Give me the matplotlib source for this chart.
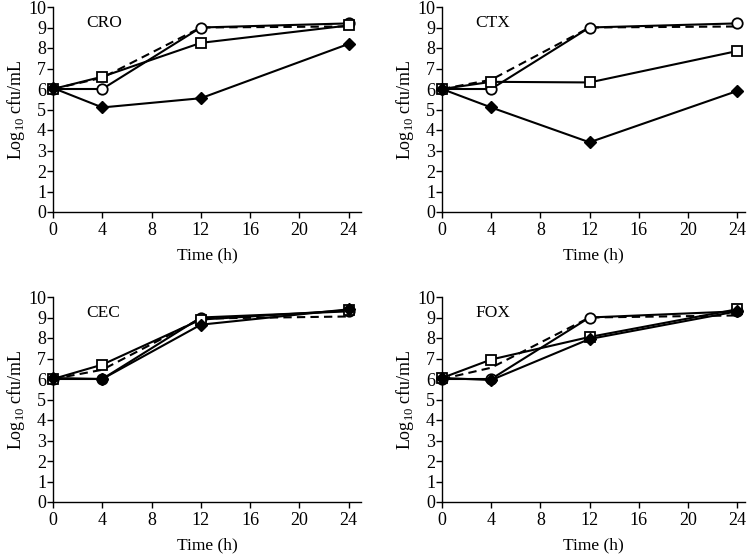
import matplotlib
matplotlib.use("Agg")
from matplotlib import pyplot as plt

plt.rcParams['font.family'] = ['Liberation Serif', 'DejaVu Serif']
plt.rcParams['mathtext.fontset'] = 'custom'
plt.rcParams['mathtext.rm'] = 'Liberation Serif'

time_h = [0, 4, 12, 24]
panels = ['CRO', 'CTX', 'CEC', 'FOX']

# control (dashed, no markers)
control = {
    'CRO': [6.0, 6.55, 9.0, 9.05],
    'CTX': [6.0, 6.45, 9.0, 9.05],
    'CEC': [6.0, 6.45, 8.95, 9.05],
    'FOX': [6.0, 6.55, 9.0, 9.1],
}
circles = {
    'CRO': [6.0, 6.0, 9.0, 9.2],
    'CTX': [6.0, 6.0, 9.0, 9.2],
    'CEC': [6.0, 6.0, 9.0, 9.3],
    'FOX': [6.0, 6.0, 9.0, 9.3],
}
squares = {
    'CRO': [6.0, 6.6, 8.25, 9.1],
    'CTX': [6.0, 6.35, 6.32, 7.85],
    'CEC': [6.0, 6.7, 8.9, 9.35],
    'FOX': [6.05, 6.95, 8.05, 9.4],
}
diamonds = {
    'CRO': [6.05, 5.1, 5.55, 8.2],
    'CTX': [6.0, 5.1, 3.4, 5.9],
    'CEC': [6.05, 6.0, 8.65, 9.4],
    'FOX': [6.05, 5.95, 7.95, 9.3],
}

fig = plt.figure(figsize=(7.5, 5.55), dpi=100)

# axes boxes in figure fractions: left, bottom, width, height
boxes = [
    [53 / 750, 1 - 212 / 555, 308 / 750, 205 / 555],
    [442 / 750, 1 - 212 / 555, 303 / 750, 205 / 555],
    [53 / 750, 1 - 502 / 555, 308 / 750, 205 / 555],
    [442 / 750, 1 - 502 / 555, 303 / 750, 205 / 555],
]
xmax = [25, 24.65, 25, 24.65]

for i, name in enumerate(panels):
    ax = fig.add_axes(boxes[i])
    ax.plot(time_h, control[name], color='k', lw=1.5, ls=(0, (4, 2.5)),
            clip_on=False, zorder=3)
    ax.plot(time_h, circles[name], color='k', lw=1.5, marker='o', ms=7.5,
            mfc='white', mec='k', mew=1.3, clip_on=False, zorder=4)
    ax.plot(time_h, squares[name], color='k', lw=1.5, marker='s', ms=7,
            mfc='white', mec='k', mew=1.3, clip_on=False, zorder=5)
    ax.plot(time_h, diamonds[name], color='k', lw=1.5, marker='D', ms=6,
            mfc='k', mec='k', clip_on=False, zorder=6)

    ax.set_xlim(0, xmax[i])
    ax.set_ylim(0, 10)
    ax.set_xticks([0, 4, 8, 12, 16, 20, 24])
    ax.set_yticks(range(0, 11))
    ax.spines['top'].set_visible(False)
    ax.spines['right'].set_visible(False)
    ax.spines['left'].set_linewidth(1.0)
    ax.spines['bottom'].set_linewidth(1.0)
    ax.tick_params(direction='out', length=4, width=1.0, labelsize=13, pad=1)
    ax.tick_params(axis='x', pad=3)
    ax.set_xlabel('Time (h)', fontsize=12.5, labelpad=6)
    ax.set_ylabel('Log$_{10}$ cfu/mL', fontsize=13, labelpad=1)
    ax.text(2.7, 9.2, name, fontsize=12.5, ha='left', va='center')

fig.savefig('out.png', dpi=100)
